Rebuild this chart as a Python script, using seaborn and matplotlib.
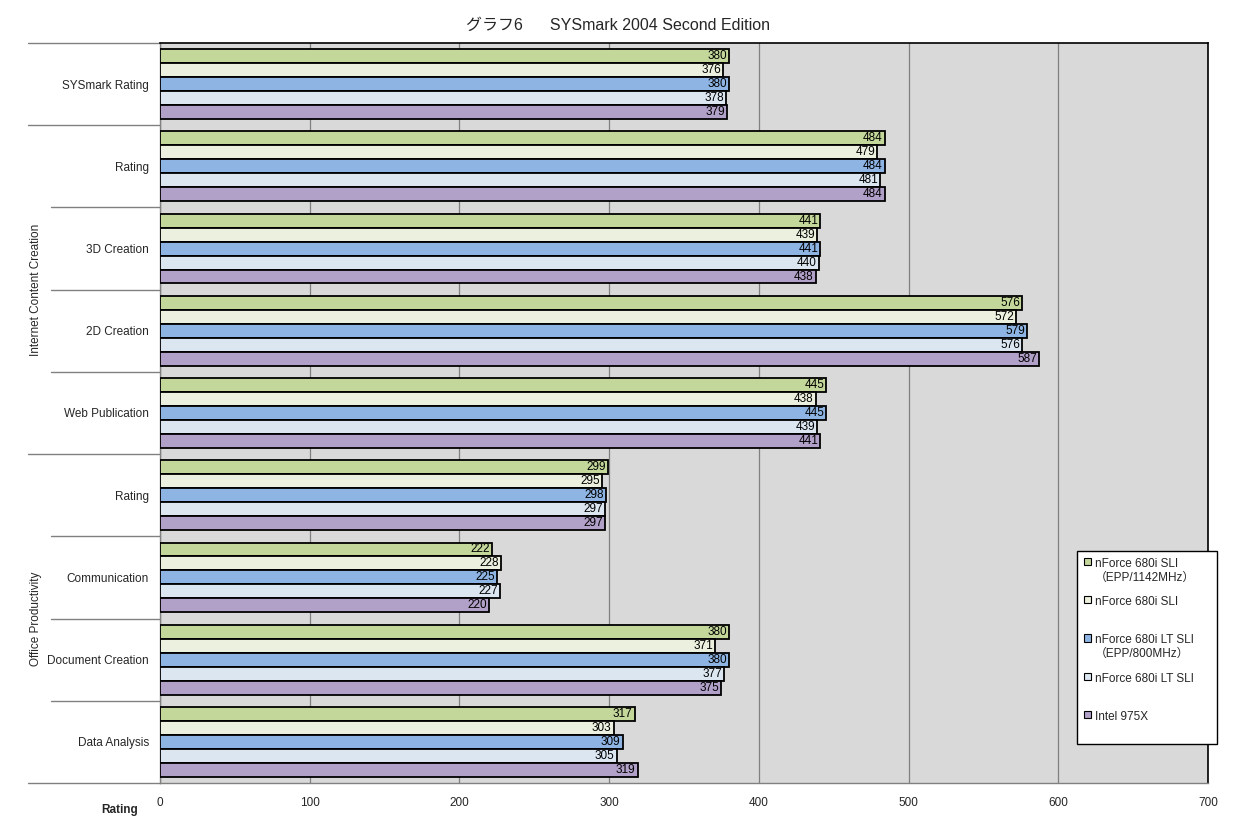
import matplotlib
matplotlib.use("Agg")
import matplotlib.pyplot as plt
import matplotlib.transforms as mtransforms
from matplotlib.patches import Patch
import seaborn as sns
import pandas as pd

# ---- data ----
category_keys = ["sysmark", "icc_rating", "icc_3d", "icc_2d", "icc_web",
                 "op_rating", "op_comm", "op_doc", "op_data"]
category_labels = ["SYSmark Rating", "Rating", "3D Creation", "2D Creation",
                   "Web Publication", "Rating", "Communication",
                   "Document Creation", "Data Analysis"]
systems = ["nForce 680i SLI (EPP/1142MHz)", "nForce 680i SLI",
           "nForce 680i LT SLI (EPP/800MHz)", "nForce 680i LT SLI", "Intel 975X"]
legend_labels = ["nForce 680i SLI\n（EPP/1142MHz）", "nForce 680i SLI\n",
                 "nForce 680i LT SLI\n（EPP/800MHz）", "nForce 680i LT SLI     \n",
                 "Intel 975X\n"]
epp1142 = [380, 484, 441, 576, 445, 299, 222, 380, 317]
sli = [376, 479, 439, 572, 438, 295, 228, 371, 303]
epp800 = [380, 484, 441, 579, 445, 298, 225, 380, 309]
lt_sli = [378, 481, 440, 576, 439, 297, 227, 377, 305]
i975x = [379, 484, 438, 587, 441, 297, 220, 375, 319]
group_labels = ["Internet Content Creation", "Office Productivity"]
x_ticks = [0, 100, 200, 300, 400, 500, 600, 700]
colors = ["#C4D79B", "#EBF1DE", "#8DB4E2", "#DCE6F1", "#B1A0C7"]

series = [epp1142, sli, epp800, lt_sli, i975x]
rows = []
for sys_name, vals in zip(systems, series):
    for k, v in zip(category_keys, vals):
        rows.append({"key": k, "system": sys_name, "score": v})
df = pd.DataFrame(rows)

sns.set_theme(style="white")
plt.rcParams["font.family"] = ["Liberation Sans", "Noto Sans CJK JP", "DejaVu Sans"]
narrow = ["Liberation Sans Narrow", "Liberation Sans", "DejaVu Sans"]

W, H = 1239, 825
fig = plt.figure(figsize=(W / 100, H / 100), dpi=100)
ax = fig.add_axes([160 / W, 1 - 783 / H, (1208 - 160) / W, (783 - 43) / H])
ax.set_facecolor("#D9D9D9")

sns.barplot(data=df, y="key", x="score", hue="system", order=category_keys,
            hue_order=systems, palette=colors, orient="h", width=0.85,
            edgecolor="black", linewidth=1.3, saturation=1, legend=False,
            ax=ax, zorder=3)

for cont in ax.containers:
    texts = ax.bar_label(cont, padding=-1.5, fontsize=8.5, color="black",
                         family=narrow)
    for t in texts:
        t.set_ha("right")

ax.set_xlim(0, 700)
ax.set_ylim(len(category_keys) - 0.5, -0.5)
ax.set_xticks(x_ticks)
ax.set_xticklabels([str(v) for v in x_ticks], fontsize=8.5)
ax.set_yticks(range(len(category_keys)))
ax.set_yticklabels(category_labels, fontsize=8.5)
ax.tick_params(axis="both", length=0)
ax.tick_params(axis="y", pad=8)
ax.tick_params(axis="x", pad=10)
ax.set_xlabel("")
ax.set_ylabel("")
ax.grid(axis="x", color="#808080", linewidth=0.9, zorder=0)
ax.grid(axis="y", visible=False)
ax.set_axisbelow(True)

for side in ["left", "bottom"]:
    ax.spines[side].set_color("#808080")
    ax.spines[side].set_linewidth(1.0)
for side in ["top", "right"]:
    ax.spines[side].set_color("black")
    ax.spines[side].set_linewidth(1.2)

# separator lines in the label column
trans = mtransforms.blended_transform_factory(ax.transAxes, ax.transData)
x_long = (28 - 160) / (1208 - 160)
x_short = (51 - 160) / (1208 - 160)
long_bounds = [-0.5, 0.5, 4.5, 8.5]
short_bounds = [1.5, 2.5, 3.5, 5.5, 6.5, 7.5]
for b in long_bounds:
    ax.plot([x_long, 0], [b, b], transform=trans, color="#808080",
            linewidth=1.0, clip_on=False)
for b in short_bounds:
    ax.plot([x_short, 0], [b, b], transform=trans, color="#808080",
            linewidth=1.0, clip_on=False)

x_group = (36 - 160) / (1208 - 160)
ax.text(x_group, 2.5, group_labels[0], transform=trans, rotation=90,
        ha="center", va="center", fontsize=8.5)
ax.text(x_group, 6.5, group_labels[1], transform=trans, rotation=90,
        ha="center", va="center", fontsize=8.5)

fig.text(618 / W, 1 - 25 / H, "グラフ6      SYSmark 2004 Second Edition",
         ha="center", va="center", fontsize=11.5)
fig.text(120 / W, 1 - 810 / H, "Rating", ha="center", va="center",
         fontsize=8.5, fontweight="bold")

handles = [Patch(facecolor=c, edgecolor="black", linewidth=0.8) for c in colors]
leg = fig.legend(handles, legend_labels, loc="upper left",
                 bbox_to_anchor=(1077 / W, 1 - 551 / H), fontsize=8.5,
                 frameon=True, fancybox=False, framealpha=1,
                 edgecolor="black", handlelength=0.55, handleheight=0.55,
                 handletextpad=0.35, labelspacing=1.05, borderpad=0.6,
                 borderaxespad=0)
leg.get_frame().set_linewidth(1.0)
# align each legend marker with the first line of its label
for col in leg._legend_handle_box.get_children():
    for row in col.get_children():
        row.align = "top"

fig.savefig("out.png", dpi=100)
